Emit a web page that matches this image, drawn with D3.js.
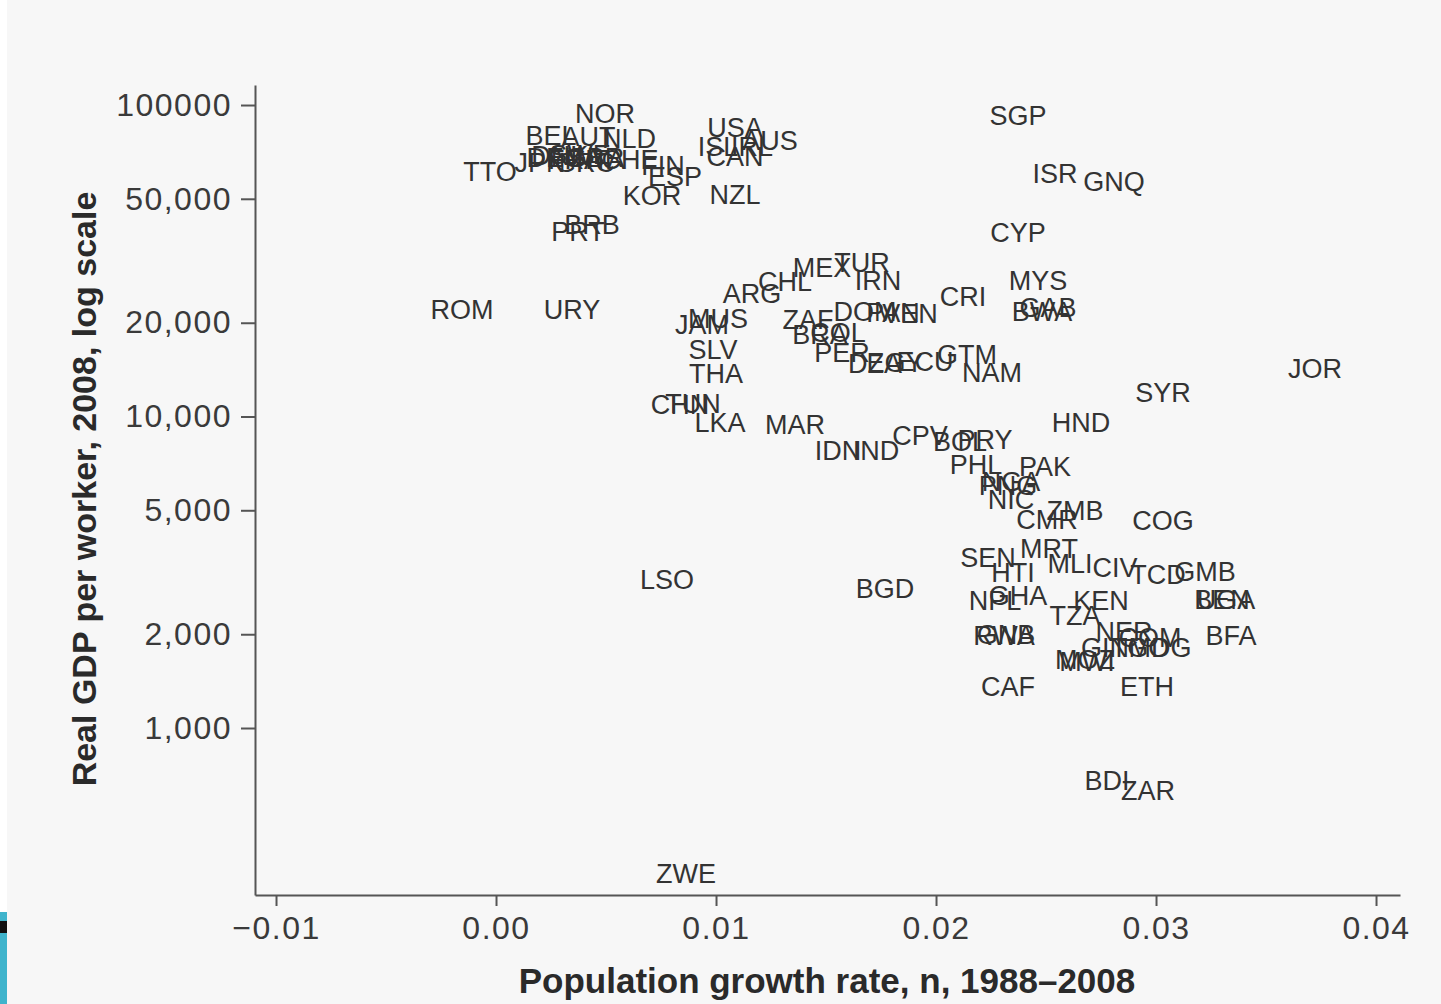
<!DOCTYPE html>
<html><head><meta charset="utf-8">
<script src="https://cdn.jsdelivr.net/npm/d3@7"></script>
<style>
html,body{margin:0;padding:0;background:#fff;}
svg{display:block;}
</style></head>
<body>
<svg id="chart" width="1441" height="1004"></svg>
<script>
// ---- data ----
const countries = ["NOR","BEL","AUT","NLD","TTO","JPN","DNK","DEU","FRA","SWE","GBR","ITA","GRC","CHE","FIN","ESP","USA","ISL","AUS","IRL","CAN","KOR","NZL","BRB","PRT","SGP","ISR","GNQ","CYP","MEX","TUR","IRN","CHL","ARG","MYS","CRI","GAB","BWA","DOM","PAN","VEN","ROM","URY","MUS","JAM","ZAF","BRA","COL","PER","DZA","EGY","ECU","GTM","NAM","SLV","THA","CHN","TUN","LKA","MAR","IDN","IND","CPV","BOL","PRY","SYR","JOR","HND","PHL","PAK","NGA","PNG","NIC","ZMB","CMR","COG","MRT","SEN","HTI","MLI","CIV","TCD","GMB","NPL","GHA","KEN","TZA","BEN","UGA","BFA","RWA","GNB","NER","COM","GIN","TGO","MDG","MOZ","MWI","ETH","CAF","BDI","ZAR","LSO","BGD","ZWE"];
const growthRate = [0.00495,0.0025,0.0042,0.00605,-0.00027,0.0020,0.0029,0.00268,0.00359,0.00382,0.0045,0.00495,0.00405,0.00609,0.00759,0.00814,0.01086,0.01009,0.01245,0.01164,0.01086,0.00709,0.01086,0.00436,0.00373,0.02373,0.02541,0.02809,0.02373,0.01482,0.01664,0.01736,0.01314,0.01164,0.02464,0.02123,0.02509,0.02482,0.01677,0.01805,0.01882,-0.00155,0.00345,0.01009,0.00936,0.01418,0.01473,0.01555,0.01573,0.01723,0.01814,0.0195,0.02141,0.02255,0.00986,0.0100,0.00836,0.00895,0.01018,0.01359,0.01555,0.01727,0.01927,0.02109,0.02223,0.03032,0.03723,0.02659,0.02182,0.02495,0.02341,0.02327,0.02341,0.02632,0.02505,0.03032,0.02514,0.02236,0.0235,0.02609,0.02814,0.03009,0.03223,0.02268,0.02373,0.0275,0.02632,0.033,0.03318,0.03341,0.02309,0.02318,0.02855,0.02973,0.02768,0.02927,0.03018,0.02677,0.02686,0.02959,0.02327,0.02777,0.02964,0.00777,0.01768,0.00864];
const gdpPerWorker = [93600,79500,79000,77800,61000,65100,68600,67600,66600,69100,67600,66600,65100,66600,63700,58700,84400,73300,76600,73300,68100,51000,51400,41200,39100,92200,60000,56600,38800,30000,31100,27200,27000,24700,27200,24200,22300,21600,21600,21500,21300,22000,22000,20600,19700,20400,18300,18500,16000,14700,14900,14960,15800,13800,16400,13700,10900,11000,9530,9390,7750,7750,8660,8280,8400,11900,14200,9530,6990,6890,6160,5980,5400,4970,4650,4620,3750,3510,3150,3360,3260,3100,3170,2560,2650,2560,2290,2580,2580,1970,1970,1990,2030,1950,1810,1800,1800,1650,1630,1350,1350,676,628,2990,2790,340];
const xTicks = [-0.01,0,0.01,0.02,0.03,0.04];
const xTickLabels = ["\u22120.01","0.00","0.01","0.02","0.03","0.04"];
const yTicks = [100000,50000,20000,10000,5000,2000,1000];
const yTickLabels = ["100000","50,000","20,000","10,000","5,000","2,000","1,000"];
const xTitle = "Population growth rate, n, 1988\u20132008";
const yTitle = "Real GDP per worker, 2008, log scale";

// ---- drawing ----
const svg = d3.select("#chart");
svg.append("rect").attr("x",7).attr("y",0).attr("width",1434).attr("height",1004).attr("fill","#f7f7f7");
// decorative corner of slide
svg.append("rect").attr("x",0).attr("y",912).attr("width",7).attr("height",92).attr("fill","#3fb4cc");
svg.append("rect").attr("x",0).attr("y",921).attr("width",7).attr("height",12).attr("fill","#111");

const x = d3.scaleLinear().domain([-0.010955, 0.04109]).range([255, 1400]);
const y = d3.scaleLog().domain([291, 115950]).range([895, 85]);

const ink = "#333";
const axisCol = "#555";

const gx = svg.append("g").attr("transform","translate(0,895)")
  .call(d3.axisBottom(x).tickValues(xTicks).tickSize(11).tickSizeOuter(0).tickPadding(10)
        .tickFormat((d,i)=>xTickLabels[i]));
const gy = svg.append("g").attr("transform","translate(255,0)")
  .call(d3.axisLeft(y).tickValues(yTicks).tickSize(14).tickSizeOuter(0).tickPadding(9)
        .tickFormat((d,i)=>yTickLabels[i]));
[gx,gy].forEach(g=>{
  g.select(".domain").attr("stroke",axisCol).attr("stroke-width",2);
  g.selectAll(".tick line").attr("stroke",axisCol).attr("stroke-width",2);
  g.selectAll(".tick text").attr("fill","#3a3a3a")
    .style("font-family","'Liberation Sans', Arial, sans-serif")
    .style("font-size","32px").style("letter-spacing","1.5px");
});

svg.append("g").selectAll("text").data(countries).join("text")
  .attr("x",(d,i)=>x(growthRate[i]))
  .attr("y",(d,i)=>y(gdpPerWorker[i]))
  .attr("text-anchor","middle")
  .attr("dominant-baseline","central")
  .attr("fill",ink)
  .style("font-family","'Liberation Sans', Arial, sans-serif")
  .style("font-size","27px")
  .text(d=>d);

svg.append("text")
  .attr("x",827).attr("y",980)
  .attr("text-anchor","middle").attr("dominant-baseline","central")
  .attr("fill","#2a2a2a")
  .style("font-family","'Liberation Sans', Arial, sans-serif")
  .style("font-size","35px").style("font-weight","bold")
  .text(xTitle);
svg.append("text")
  .attr("transform","translate(84,489) rotate(-90)")
  .attr("text-anchor","middle").attr("dominant-baseline","central")
  .attr("fill","#2a2a2a")
  .style("font-family","'Liberation Sans', Arial, sans-serif")
  .style("font-size","34px").style("font-weight","bold")
  .text(yTitle);
</script>
</body></html>
